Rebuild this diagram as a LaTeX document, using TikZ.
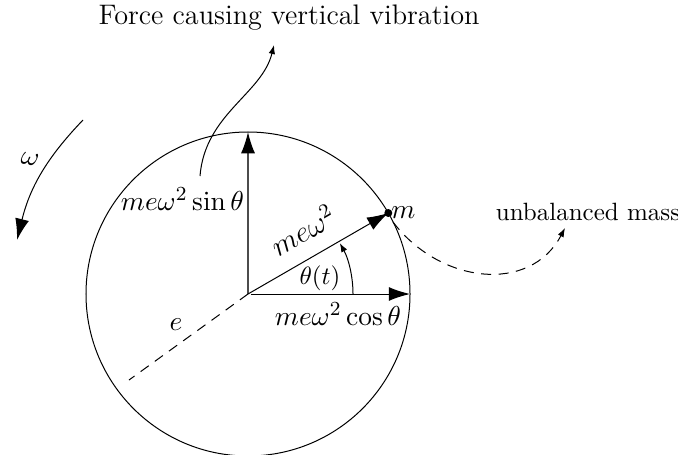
\documentclass[tikz,border=0pt]{standalone}
\usetikzlibrary{arrows.meta,calc}
\begin{document}
\begin{tikzpicture}[x=0.4pt,y=0.4pt,
  bigtip/.style={-{Latex[length=8.5pt,width=5.6pt]}},
  smalltip/.style={-{Latex[length=3.6pt,width=2.6pt]}},
  mlabel/.style={font=\fontsize{11.4}{13}\selectfont},
  dashedline/.style={dash pattern=on 4pt off 3pt}]
\useasboundingbox (0,0) rectangle (678,454);
\coordinate (c) at (248,160);
\draw (c) circle[radius=64.8pt];
\coordinate (top) at (248,322);
\coordinate (rgt) at (410,160);
\coordinate (mass) at ($(c)+(30:162)$);
% forces
\draw[black!70, line width=0.5pt, -{Latex[length=8.5pt,width=5.6pt,black]}] (c) -- (top);
\draw[bigtip] ($(c)+(3,0)$) -- (rgt);
\draw[bigtip] (c) -- (mass) node[mlabel, pos=0.49, above=3pt, sloped, font=\fontsize{12}{14}\selectfont] {$me\omega^2$};
\fill (mass) circle[radius=1.6pt];
\node[mlabel, anchor=west, inner sep=1pt] (mlab) at (mass) {$m$};
\node[mlabel, anchor=east, inner sep=1pt] (sinlab) at (247,255) {$me\omega^2\sin\theta$};
\node[mlabel] (coslab) at (338,140) {$me\omega^2\cos\theta$};
% angle
\draw[smalltip] ($(c)+(105,0)$) arc[start angle=0, end angle=29, radius=42pt];
\node (thlab) at (320,176) {$\theta(t)$};
% eccentricity
\coordinate (eend) at (129,74);
\draw[dashedline] (c) -- (eend);
\node[mlabel] (elab) at (176,129) {$e$};
% unbalanced mass
\node (umlab) at (588,242) {unbalanced mass};
\coordinate (ustart) at (393,232);
\coordinate (uend) at (565,226);
\draw[dashedline, smalltip] (ustart) .. controls (440,170) and (530,160) .. (uend);
% vertical force
\node[font=\fontsize{11.3}{13}\selectfont] (force) at (289,436) {Force causing vertical vibration};
\coordinate (fstart) at (200,278);
\coordinate (fend) at (274,409);
\draw[smalltip] (fstart) .. controls (205,340) and (262,360) .. (fend);
% omega
\coordinate (wstart) at (83,334);
\coordinate (wend) at (17,214);
\draw[bigtip] (wstart) to[bend right=15] (wend);
\node[mlabel, rotate=-10] (wlab) at (30,295) {$\omega$};
\end{tikzpicture}
\end{document}
